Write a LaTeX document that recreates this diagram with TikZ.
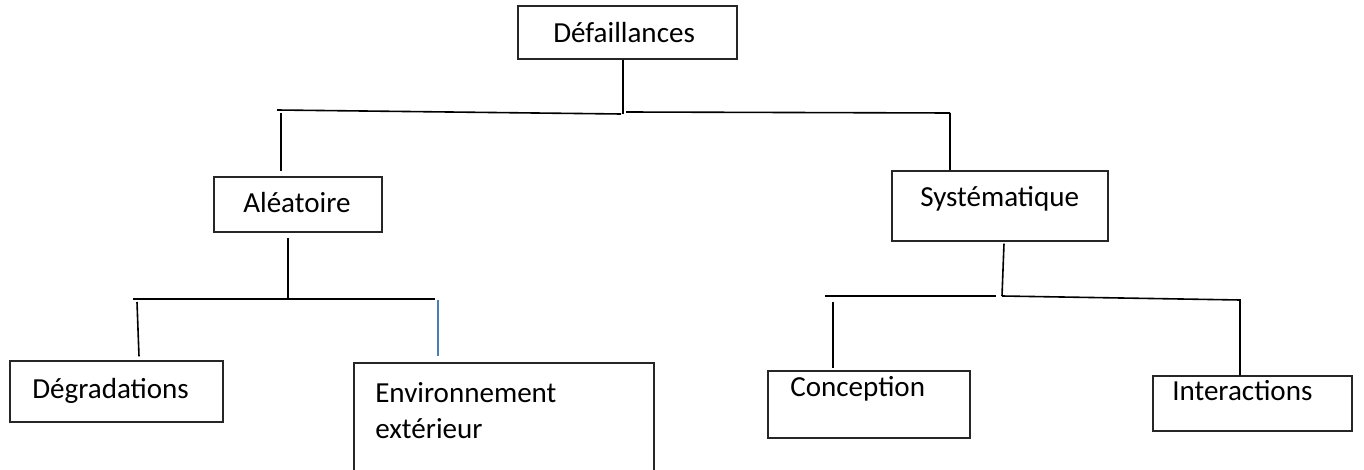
\documentclass[tikz,border=0pt]{standalone}
\usepackage{fontspec}
\setmainfont{Carlito}
\usetikzlibrary{calc}
\definecolor{wordblue}{HTML}{4A7EBB}

\begin{document}
\begin{tikzpicture}[x=0.75pt,y=-0.75pt,
		box/.style 2 args={draw=black!85,line width=0.9pt,inner sep=0pt,
			minimum width=#1*0.75pt,minimum height=#2*0.75pt},
		txt/.style={anchor=base west,inner sep=0pt,
			font=\fontsize{21.8}{27}\selectfont},
		link/.style={draw=black,line width=1.2pt},
		blueline/.style={draw=wordblue,line width=1.2pt}]
		\useasboundingbox (0,0) rectangle (1364,470);
		\clip (0,0) rectangle (1364,470);

		% boxes
		\node[box={219}{53}] (defa) at (627.5,32.5) {};
		\node[box={168}{55}] (alea) at (298,204.5) {};
		\node[box={216}{70}] (syst) at (1000,206) {};
		\node[box={213}{61}] (degr) at (116.5,391.5) {};
		\node[box={300}{117}] (envi) at (504,421.5) {};
		\node[box={202}{67}] (conc) at (869,404.5) {};
		\node[box={199}{55}] (inte) at (1252.5,403.5) {};

		% texts
		\node[txt] (defa-t) at (553,43) {Défaillances};
		\node[txt] (alea-t) at (243,213) {Aléatoire};
		\node[txt] (syst-t) at (920,207) {Systématique};
		\node[txt] (degr-t) at (32,398) {Dégradations};
		\node[txt,align=left] (envi-t) at (375,438) {Environnement\\extérieur};
		\node[txt] (conc-t) at (790,396) {Conception};
		\node[txt] (inte-t) at (1172,400) {Interactions};

		% first level
		\coordinate (defa-j) at (623,114);
		\coordinate (defa-l) at (277,110);
		\coordinate (defa-r) at (950,113);
		\draw[link] ($(defa.south)+(-4.5,0)$) -- (defa-j);
		\draw[link] (defa-l) -- ($(defa-j)+(-2,0)$);
		\draw[link] ($(defa-j)+(3,-2)$) -- (defa-r);
		\draw[link] ($(defa-l)+(4,3)$) -- ($(alea.north)+(-17,-5)$);
		\draw[link] (defa-r) -- (syst.north -| defa-r);

		% aleatoire
		\coordinate (alea-j) at (288,299);
		\coordinate (alea-l) at (133,299);
		\coordinate (alea-r) at (435,299);
		\draw[link] ($(alea.south)+(-10,5)$) -- (alea-j);
		\draw[link] (alea-l) -- (alea-r);
		\draw[link] ($(alea-l)+(4,3)$) -- ($(degr.north)+(22.5,-4)$);
		\draw[blueline] ($(alea-r)+(3,1)$) -- ($(envi.north)+(-66,-6)$);

		% systematique
		\coordinate (syst-j) at (1002,296);
		\coordinate (syst-l) at (825,296);
		\coordinate (syst-r) at (1240,300);
		\draw[link] ($(syst.south)+(4,2)$) -- (syst-j);
		\draw[link] (syst-l) -- ($(syst-j)+(-6,0)$);
		\draw[link] (syst-j) -- (syst-r) -- (inte.north -| syst-r);
		\draw[link] ($(syst-l)+(8,6)$) -- ($(conc.north)+(-36,-2)$);
	\end{tikzpicture}
\end{document}
